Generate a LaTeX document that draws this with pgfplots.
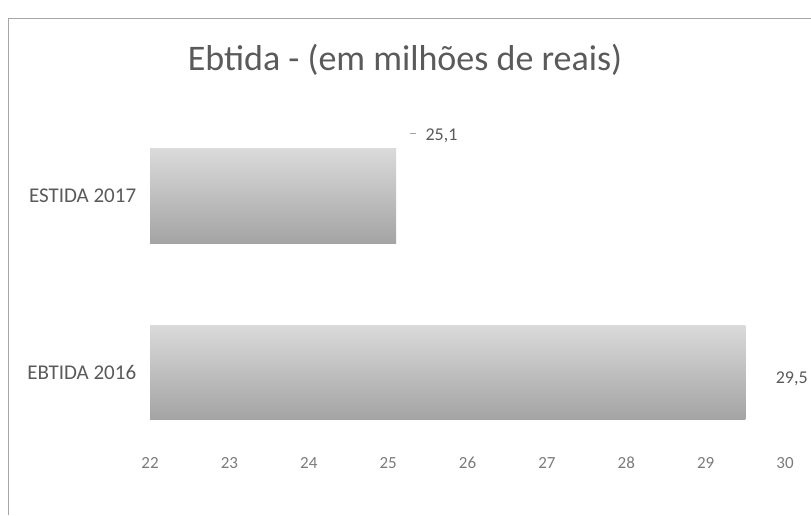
\documentclass[border=0pt]{standalone}
\usepackage{fontspec}
\setmainfont{Carlito}
\usepackage{pgfplots}
\pgfplotsset{compat=1.18}
\definecolor{txt}{HTML}{5A5A5A}
\definecolor{barlight}{HTML}{DADADA}
\definecolor{bardark}{HTML}{A4A4A4}
\begin{document}
\begin{tikzpicture}[x=1pt,y=1pt]
\path[use as bounding box] (0,0) rectangle (811,515);
\draw[gray!70, line width=0.6pt] (8,0) -- (8,497) -- (811,497);
\node[text=txt, font=\fontsize{36}{40}\selectfont] at (405,455) {Ebtida - (em milhões de reais)};
\begin{axis}[
  at={(150pt,60pt)}, anchor=south west,
  scale only axis, width=635pt, height=345pt,
  xmin=22, xmax=30, ymin=60, ymax=405,
  xtick={22,...,30}, ytick={143,319},
  yticklabels={EBTIDA 2016, ESTIDA 2017},
  xticklabel style={text=txt!80, font=\fontsize{17}{19}\selectfont, text height=1.6ex, text depth=0.2ex, yshift=-2pt},
  yticklabel style={text=txt, font=\fontsize{21}{24}\selectfont, xshift=-6pt},
  /pgf/number format/assume math mode=true,
  xtick style={draw=none}, ytick style={draw=none},
  axis x line*=bottom, axis y line*=left,
  x axis line style={draw=none}, y axis line style={draw=none},
  xbar, bar width=94pt, bar shift=0pt,
  point meta=x,
  nodes near coords,
  every node near coord/.append style={text=txt, font=\fontsize{18}{20}\selectfont,
    /pgf/number format/use comma, /pgf/number format/fixed,
    /pgf/number format/fixed zerofill, /pgf/number format/precision=1},
]
\addplot[xbar, bar shift=0pt, draw=none, top color=barlight, bottom color=bardark,
  nodes near coords style={anchor=west, xshift=27pt, yshift=-7pt}]
  coordinates {(29.5,143)};
\addplot[xbar, bar shift=0pt, draw=none, top color=barlight, bottom color=bardark,
  nodes near coords style={anchor=west, xshift=26pt, yshift=60pt}]
  coordinates {(25.1,319)};
\draw[gray!70, line width=0.8pt] (axis cs:25.28,382) -- (axis cs:25.35,382);
\end{axis}
\end{tikzpicture}
\end{document}
